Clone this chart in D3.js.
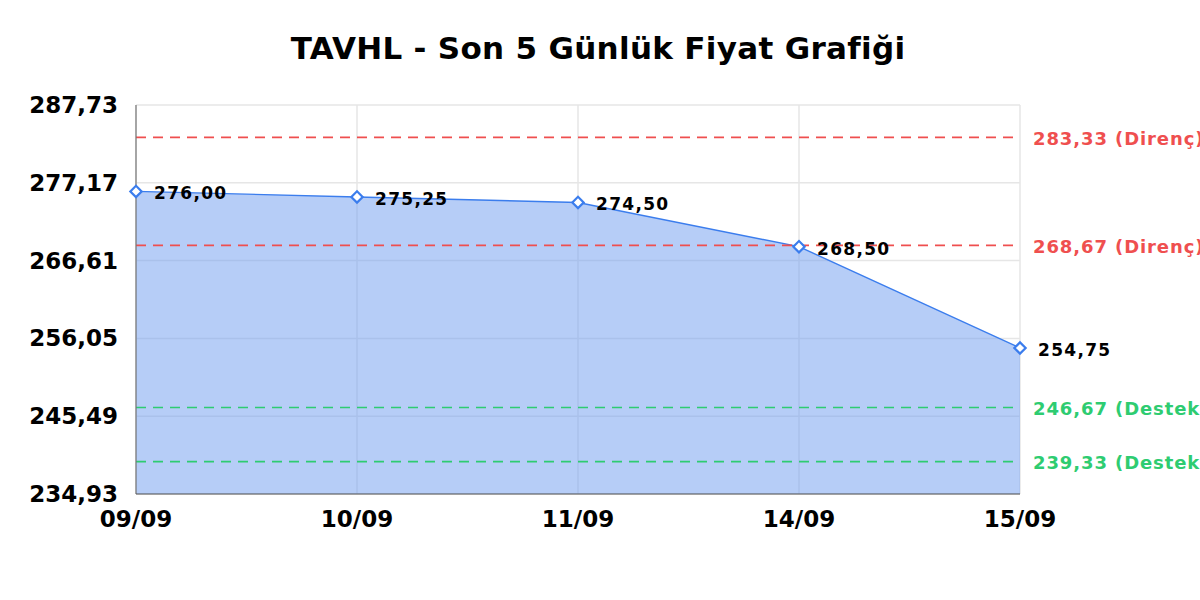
<!DOCTYPE html>
<html>
<head>
<meta charset="utf-8">
<script src="https://cdn.jsdelivr.net/npm/d3@7"></script>
<style>
  body { margin: 0; background: #fff; }
  text { font-family: "DejaVu Sans", sans-serif; }
</style>
</head>
<body>
<div id="chart"></div>
<script>
// Chart data
const dates = ['09/09', '10/09', '11/09', '14/09', '15/09'];
const prices = [276.00, 275.25, 274.50, 268.50, 254.75];
const yTicks = [234.93, 245.49, 256.05, 266.61, 277.17, 287.73];
const resistance = [283.33, 268.67];
const support = [246.67, 239.33];

const width = 1200;
const height = 600;
const margin = { top: 105, right: 180, bottom: 106, left: 136 };

const fmt = v => v.toFixed(2).replace('.', ',');

// Create SVG
const svg = d3.select('#chart')
    .append('svg')
    .attr('width', width)
    .attr('height', height);

const x = d3.scalePoint()
    .domain(dates)
    .range([margin.left, width - margin.right]);

const y = d3.scaleLinear()
    .domain([yTicks[0], yTicks[yTicks.length - 1]])
    .range([height - margin.bottom, margin.top]);

// Title
svg.append('text')
    .attr('x', 598)
    .attr('y', 59)
    .attr('text-anchor', 'middle')
    .style('font-size', '31px')
    .style('font-weight', 'bold')
    .style('letter-spacing', '0.3px')
    .text('TAVHL - Son 5 Günlük Fiyat Grafiği');

// Grid lines
svg.append('g')
    .selectAll('line')
    .data(yTicks)
    .enter()
    .append('line')
    .attr('x1', margin.left)
    .attr('x2', width - margin.right)
    .attr('y1', d => y(d))
    .attr('y2', d => y(d))
    .attr('stroke', '#e6e6e6')
    .attr('stroke-width', 1.5);

svg.append('g')
    .selectAll('line')
    .data(dates)
    .enter()
    .append('line')
    .attr('x1', d => x(d))
    .attr('x2', d => x(d))
    .attr('y1', margin.top)
    .attr('y2', height - margin.bottom)
    .attr('stroke', '#e6e6e6')
    .attr('stroke-width', 1.5);

// Area and line
const area = d3.area()
    .x((d, i) => x(dates[i]))
    .y0(y(yTicks[0]))
    .y1(d => y(d));

const line = d3.line()
    .x((d, i) => x(dates[i]))
    .y(d => y(d));

svg.append('path')
    .datum(prices)
    .attr('d', area)
    .attr('fill', '#6d9cf0')
    .attr('fill-opacity', 0.5);

svg.append('path')
    .datum(prices)
    .attr('d', line)
    .attr('fill', 'none')
    .attr('stroke', '#3b7ded')
    .attr('stroke-width', 1.4);

// Support / resistance lines
const levels = resistance.map(v => ({ v, label: fmt(v) + ' (Direnç)', color: '#ef4f4f' }))
    .concat(support.map(v => ({ v, label: fmt(v) + ' (Destek)', color: '#2ecc71' })));

const lv = svg.append('g').selectAll('g')
    .data(levels)
    .enter()
    .append('g');

lv.append('line')
    .attr('x1', margin.left)
    .attr('x2', width - margin.right)
    .attr('y1', d => y(d.v))
    .attr('y2', d => y(d.v))
    .attr('stroke', d => d.color)
    .attr('stroke-width', 1.7)
    .attr('stroke-dasharray', '10,7');

lv.append('text')
    .attr('x', width - margin.right + 13)
    .attr('y', d => y(d.v) + 7.5)
    .attr('fill', d => d.color)
    .style('font-size', '18px')
    .style('font-weight', 'bold')
    .style('letter-spacing', '0.9px')
    .text(d => d.label);

// Axes
svg.append('line')
    .attr('x1', margin.left).attr('x2', margin.left)
    .attr('y1', margin.top).attr('y2', height - margin.bottom)
    .attr('stroke', '#777').attr('stroke-width', 1.2);

svg.append('line')
    .attr('x1', margin.left).attr('x2', width - margin.right)
    .attr('y1', height - margin.bottom).attr('y2', height - margin.bottom)
    .attr('stroke', '#555').attr('stroke-width', 1.2);

svg.append('g')
    .selectAll('text')
    .data(yTicks)
    .enter()
    .append('text')
    .attr('x', margin.left - 18)
    .attr('y', d => y(d) + 8)
    .attr('text-anchor', 'end')
    .style('font-size', '23px')
    .style('font-weight', 'bold')
    .text(d => fmt(d));

svg.append('g')
    .selectAll('text')
    .data(dates)
    .enter()
    .append('text')
    .attr('x', d => x(d))
    .attr('y', height - margin.bottom + 33)
    .attr('text-anchor', 'middle')
    .style('font-size', '23px')
    .style('font-weight', 'bold')
    .text(d => d);

// Markers and value labels
const sym = d3.symbol().type(d3.symbolSquare).size(64);

svg.append('g')
    .selectAll('path')
    .data(prices)
    .enter()
    .append('path')
    .attr('d', sym)
    .attr('transform', (d, i) => `translate(${x(dates[i])},${y(d)}) rotate(45)`)
    .attr('fill', '#fff')
    .attr('stroke', '#3b7ded')
    .attr('stroke-width', 2.2);

svg.append('g')
    .selectAll('text')
    .data(prices)
    .enter()
    .append('text')
    .attr('x', (d, i) => x(dates[i]) + 18)
    .attr('y', d => y(d) + 8)
    .style('font-size', '17px')
    .style('font-weight', 'bold')
    .style('letter-spacing', '1.3px')
    .text(d => fmt(d));
</script>
</body>
</html>
